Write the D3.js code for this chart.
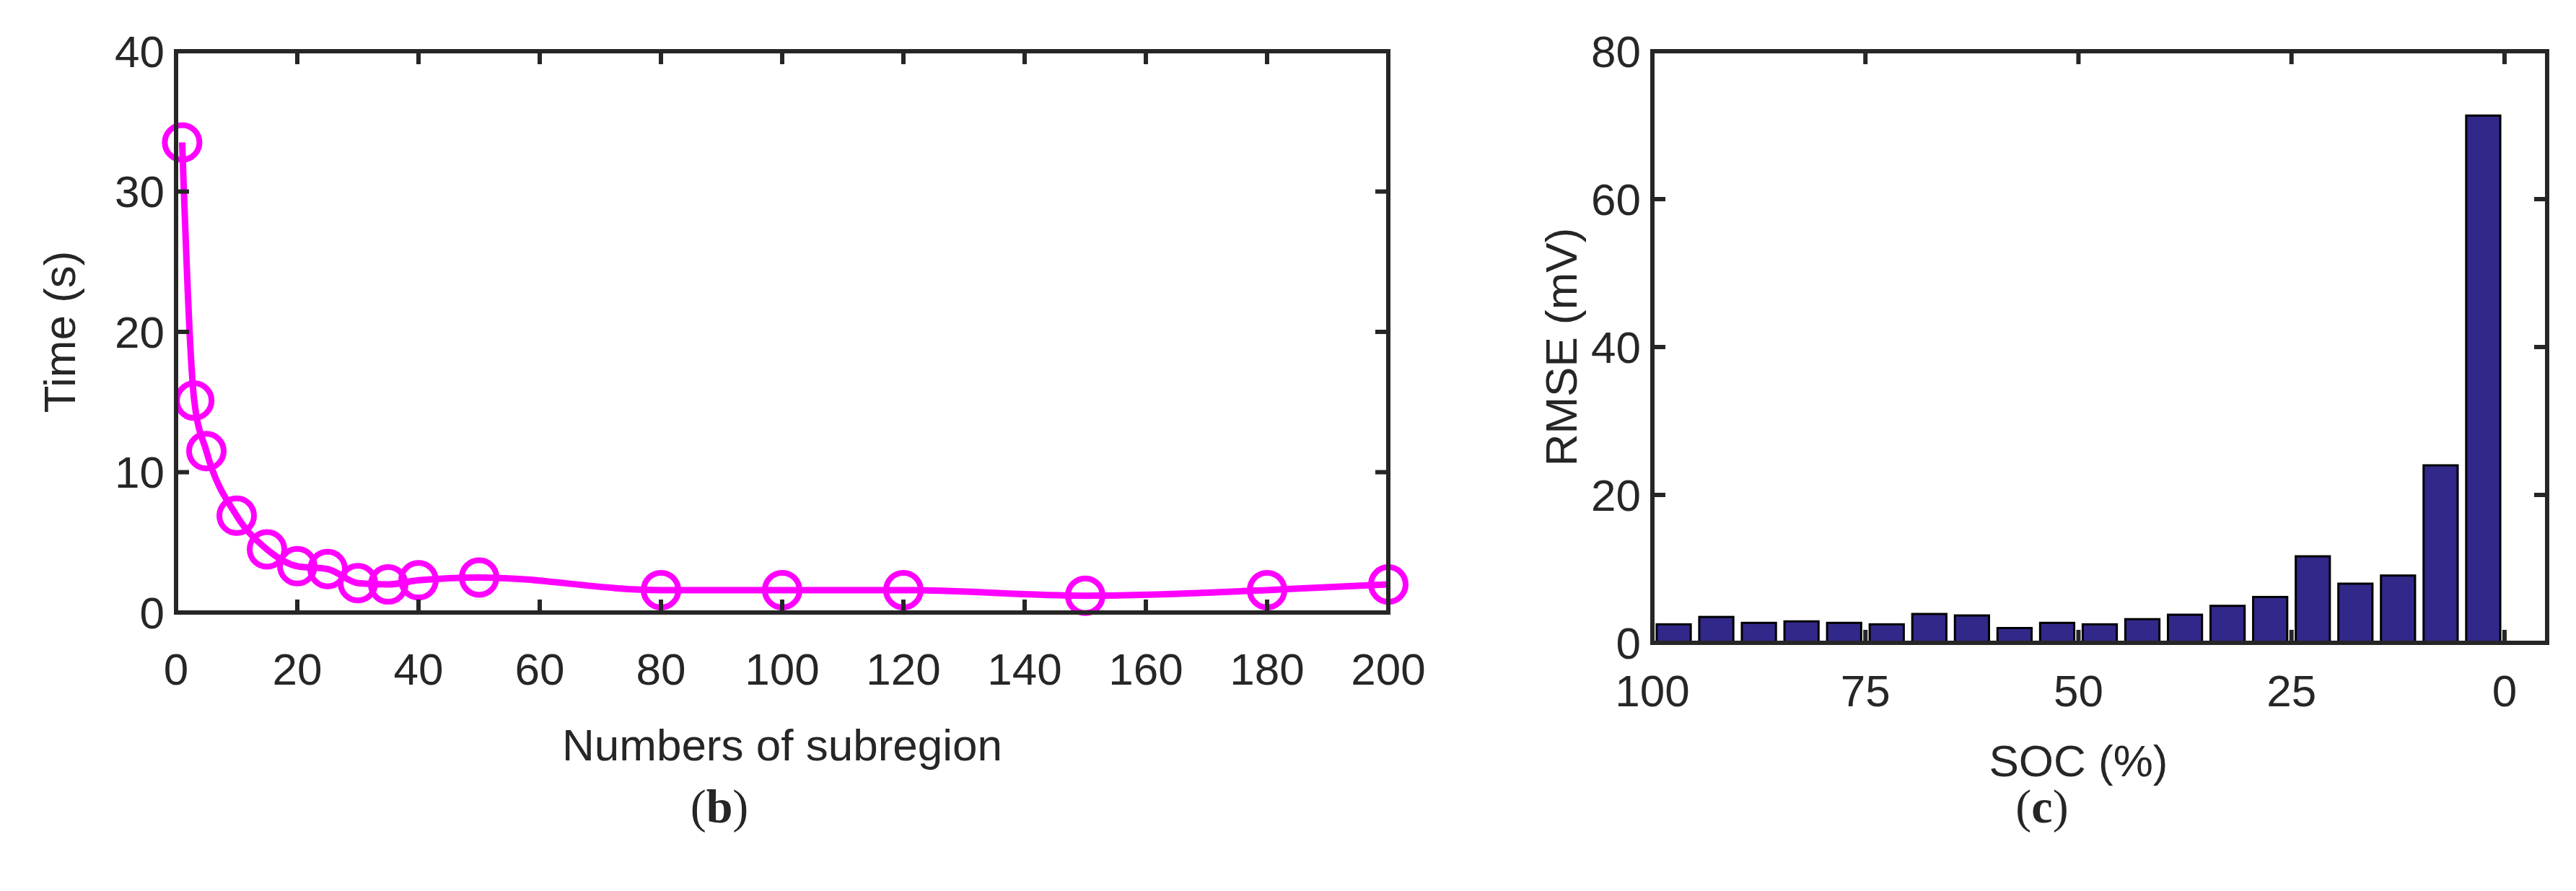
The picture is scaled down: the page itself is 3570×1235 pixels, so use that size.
<!DOCTYPE html>
<html>
<head>
<meta charset="utf-8">
<script src="https://cdn.jsdelivr.net/npm/d3@7"></script>
<style>
  body { margin: 0; background: #fff; }
  text { font-family: "Liberation Sans", Arial, sans-serif; fill: #262626; }
</style>
</head>
<body>
<div id="chart"></div>
<script>
// (b) computation time vs number of subregions
const SUBREGIONS = [1, 3, 5, 10, 15, 20, 25, 30, 35, 40, 50, 80, 100, 120, 150, 180, 200];
const TIMES = [33.5, 15.1, 11.5, 6.9, 4.5, 3.3, 3.1, 2.1, 2.0, 2.3, 2.5, 1.6, 1.6, 1.6, 1.2, 1.6, 2.0];
const B_XTICKS = [0, 20, 40, 60, 80, 100, 120, 140, 160, 180, 200];
const B_YTICKS = [0, 10, 20, 30, 40];

// (c) RMSE per SOC bin
const SOC = [97.5, 92.5, 87.5, 82.5, 77.5, 72.5, 67.5, 62.5, 57.5, 52.5, 47.5, 42.5, 37.5, 32.5, 27.5, 22.5, 17.5, 12.5, 7.5, 2.5];
const RMSE = [2.5, 3.5, 2.7, 2.9, 2.7, 2.5, 3.9, 3.7, 2.0, 2.7, 2.5, 3.2, 3.8, 5.0, 6.2, 11.7, 8.0, 9.1, 24.0, 71.3];
const C_XTICKS = [100, 75, 50, 25, 0];
const C_YTICKS = [0, 20, 40, 60, 80];

const W = 3570, H = 1235;
const AXIS = "#262626";
const FS = 62;

const svg = d3.select("#chart").append("svg").attr("width", W).attr("height", H);

// draw a boxed MATLAB-style frame with inward ticks
const frame = (g, x, y, xticks, yticks, w, h, xoff) => {
  const tl = 18;
  g.append("rect").attr("width", w).attr("height", h)
    .attr("fill", "none").attr("stroke", AXIS).attr("stroke-width", 6);
  xticks.forEach((t) => {
    g.append("line").attr("x1", x(t)).attr("x2", x(t)).attr("y1", h).attr("y2", h - tl).attr("stroke", AXIS).attr("stroke-width", 6);
    g.append("line").attr("x1", x(t)).attr("x2", x(t)).attr("y1", 0).attr("y2", tl).attr("stroke", AXIS).attr("stroke-width", 6);
    g.append("text").attr("x", x(t)).attr("y", h + xoff).attr("text-anchor", "middle").attr("font-size", FS).text(t);
  });
  yticks.forEach((t) => {
    g.append("line").attr("y1", y(t)).attr("y2", y(t)).attr("x1", 0).attr("x2", tl).attr("stroke", AXIS).attr("stroke-width", 6);
    g.append("line").attr("y1", y(t)).attr("y2", y(t)).attr("x1", w).attr("x2", w - tl).attr("stroke", AXIS).attr("stroke-width", 6);
    g.append("text").attr("x", -16).attr("y", y(t)).attr("dy", "0.35em").attr("text-anchor", "end").attr("font-size", FS).text(t);
  });
};

// ---- panel (b)
{
  const left = 244, top = 71, w = 1680, h = 778;
  const x = d3.scaleLinear().domain([0, 200]).range([0, w]);
  const y = d3.scaleLinear().domain([0, 40]).range([h, 0]);
  const g = svg.append("g").attr("transform", `translate(${left},${top})`);
  const pts = SUBREGIONS.map((s, i) => [s, TIMES[i]]);

  g.append("path").datum(pts)
    .attr("fill", "none").attr("stroke", "#ff00ff").attr("stroke-width", 9)
    .attr("d", d3.line().x((d) => x(d[0])).y((d) => y(d[1])).curve(d3.curveMonotoneX));
  g.selectAll("circle").data(pts).join("circle")
    .attr("cx", (d) => x(d[0])).attr("cy", (d) => y(d[1])).attr("r", 24)
    .attr("fill", "none").attr("stroke", "#ff00ff").attr("stroke-width", 8);

  frame(g, x, y, B_XTICKS, B_YTICKS, w, h, 100);

  g.append("text").attr("x", w / 2).attr("y", h + 205).attr("text-anchor", "middle").attr("font-size", FS).text("Numbers of subregion");
  g.append("text").attr("transform", `translate(${-140},${h / 2}) rotate(-90)`).attr("text-anchor", "middle").attr("font-size", FS).text("Time (s)");
  svg.append("text").attr("x", 997).attr("y", 1140).attr("text-anchor", "middle")
    .style("font-family", "'Liberation Serif', serif").attr("font-size", 66)
    .html("(<tspan font-weight='bold'>b</tspan>)");
}

// ---- panel (c)
{
  const left = 2290, top = 71, w = 1240, h = 820;
  const x = d3.scaleLinear().domain([100, -5]).range([0, w]);
  const y = d3.scaleLinear().domain([0, 80]).range([h, 0]);
  const g = svg.append("g").attr("transform", `translate(${left},${top})`);
  const bw = Math.abs(x(0) - x(4));

  g.selectAll("rect.bar").data(SOC).join("rect").attr("class", "bar")
    .attr("x", (d) => x(d) - bw / 2).attr("width", bw)
    .attr("y", (d, i) => y(RMSE[i])).attr("height", (d, i) => h - y(RMSE[i]))
    .attr("fill", "#32288a").attr("stroke", "#000").attr("stroke-width", 3);

  frame(g, x, y, C_XTICKS, C_YTICKS, w, h, 88);

  g.append("text").attr("x", x(50)).attr("y", h + 185).attr("text-anchor", "middle").attr("font-size", FS).text("SOC (%)");
  g.append("text").attr("transform", `translate(${-105},${h / 2}) rotate(-90)`).attr("text-anchor", "middle").attr("font-size", FS).text("RMSE (mV)");
  svg.append("text").attr("x", 2830).attr("y", 1140).attr("text-anchor", "middle")
    .style("font-family", "'Liberation Serif', serif").attr("font-size", 66)
    .html("(<tspan font-weight='bold'>c</tspan>)");
}
</script>
</body>
</html>
